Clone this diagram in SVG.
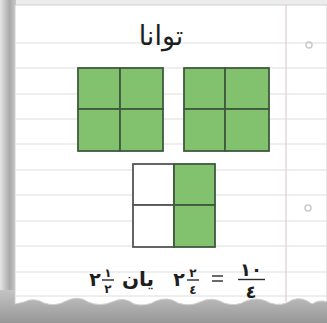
<svg xmlns="http://www.w3.org/2000/svg" width="327" height="323" viewBox="0 0 327 323">
  <defs>
    <linearGradient id="shadowL" x1="0" y1="0" x2="1" y2="0">
      <stop offset="0" stop-color="#e6e6e6"/>
      <stop offset="0.6" stop-color="#a9a9a9"/>
      <stop offset="1" stop-color="#c8c8c8"/>
    </linearGradient>
    <linearGradient id="shadowB" x1="0" y1="0" x2="0" y2="1">
      <stop offset="0" stop-color="#c4c4c4"/>
      <stop offset="1" stop-color="#979797"/>
    </linearGradient>
  </defs>
  <style>
    .rule { stroke: #dedede; stroke-width: 1.2; }
    .margin { stroke: #dccfcf; stroke-width: 1.2; }
    .hole { fill: none; stroke: #c9c9c9; stroke-width: 1.5; }
    .cell { fill: #82c26f; stroke: #3f5a3c; stroke-width: 1.8; }
    .blank { fill: #ffffff; stroke: #555555; stroke-width: 1.8; }
    .txt { font-family: "DejaVu Sans", sans-serif; fill: #1e1e1e; }
    .b { font-weight: bold; }
    .bar { stroke: #2a2a2a; stroke-width: 1.4; }
  </style>

  <!-- background / shadows -->
  <rect x="0" y="0" width="327" height="323" fill="#ececec"/>
  <rect x="0" y="0" width="16" height="323" fill="url(#shadowL)"/>
  <rect x="0" y="290" width="327" height="33" fill="url(#shadowB)"/>

  <!-- paper with torn bottom edge -->
  <path d="M15,5 L327,5 L327,302 Q320,299 312,304 Q302,296 292,300 Q282,307 270,303 Q258,296 246,301 Q236,307 224,303 Q212,296 200,302 Q190,307 178,303 Q168,296 156,301 Q146,307 134,304 Q124,296 112,302 Q100,307 88,302 Q78,295 66,301 Q56,307 44,303 Q34,297 24,302 L15,304 Z" fill="#ffffff" stroke="#cfcfcf" stroke-width="1"/>

  <!-- ruled lines -->
  <g id="paper-lines">
    <line class="rule" x1="16" y1="43" x2="327" y2="43"/>
    <line class="rule" x1="16" y1="68" x2="327" y2="68"/>
    <line class="rule" x1="16" y1="94" x2="327" y2="94"/>
    <line class="rule" x1="16" y1="119" x2="327" y2="119"/>
    <line class="rule" x1="16" y1="144" x2="327" y2="144"/>
    <line class="rule" x1="16" y1="170" x2="327" y2="170"/>
    <line class="rule" x1="16" y1="195" x2="327" y2="195"/>
    <line class="rule" x1="16" y1="221" x2="327" y2="221"/>
    <line class="rule" x1="16" y1="246" x2="327" y2="246"/>
    <line class="rule" x1="16" y1="272" x2="327" y2="272"/>
    <line class="rule" x1="16" y1="296" x2="327" y2="296"/>
    <line class="margin" x1="286" y1="5" x2="286" y2="302"/>
    <circle class="hole" cx="309" cy="45" r="3"/>
    <circle class="hole" cx="308" cy="208" r="3"/>
  </g>

  <!-- title -->
  <g id="title">
    <text class="txt" x="161" y="45" font-size="27" text-anchor="middle">توانا</text>
  </g>

  <!-- first whole (4 quarters) -->
  <g id="square-1">
    <rect class="cell" x="78" y="68" width="42" height="41"/>
    <rect class="cell" x="120" y="68" width="43" height="41"/>
    <rect class="cell" x="78" y="109" width="42" height="42"/>
    <rect class="cell" x="120" y="109" width="43" height="42"/>
  </g>

  <!-- second whole (4 quarters) -->
  <g id="square-2">
    <rect class="cell" x="184" y="68" width="41" height="41"/>
    <rect class="cell" x="225" y="68" width="44" height="41"/>
    <rect class="cell" x="184" y="109" width="41" height="42"/>
    <rect class="cell" x="225" y="109" width="44" height="42"/>
  </g>

  <!-- half whole (2 of 4 quarters shaded) -->
  <g id="square-3">
    <rect class="blank" x="133" y="164" width="41" height="41"/>
    <rect class="blank" x="133" y="205" width="41" height="42"/>
    <rect class="cell" x="174" y="164" width="41" height="41"/>
    <rect class="cell" x="174" y="205" width="41" height="42"/>
  </g>

  <!-- equation -->
  <g id="equation">
    <!-- 2 1/2 -->
    <text class="txt b" x="95" y="286" font-size="19" text-anchor="middle">٢</text>
    <text class="txt b" x="108" y="277" font-size="12" text-anchor="middle">١</text>
    <line class="bar" x1="102" y1="280" x2="114" y2="280"/>
    <text class="txt b" x="108" y="293" font-size="12" text-anchor="middle">٢</text>
    <!-- word -->
    <text class="txt b" x="138" y="286" font-size="20" text-anchor="middle">یان</text>
    <!-- 2 2/4 -->
    <text class="txt b" x="179" y="286" font-size="19" text-anchor="middle">٢</text>
    <text class="txt b" x="193" y="277" font-size="12" text-anchor="middle">٢</text>
    <line class="bar" x1="187" y1="280" x2="199" y2="280"/>
    <text class="txt b" x="193" y="294" font-size="12" text-anchor="middle">٤</text>
    <!-- = -->
    <line class="bar" x1="212" y1="276" x2="223" y2="276"/>
    <line class="bar" x1="212" y1="281" x2="223" y2="281"/>
    <!-- 10/4 -->
    <text class="txt b" x="251" y="276" font-size="18" text-anchor="middle">١٠</text>
    <line class="bar" x1="238" y1="279.5" x2="265" y2="279.5"/>
    <text class="txt b" x="251" y="298" font-size="18" text-anchor="middle">٤</text>
  </g>
</svg>
